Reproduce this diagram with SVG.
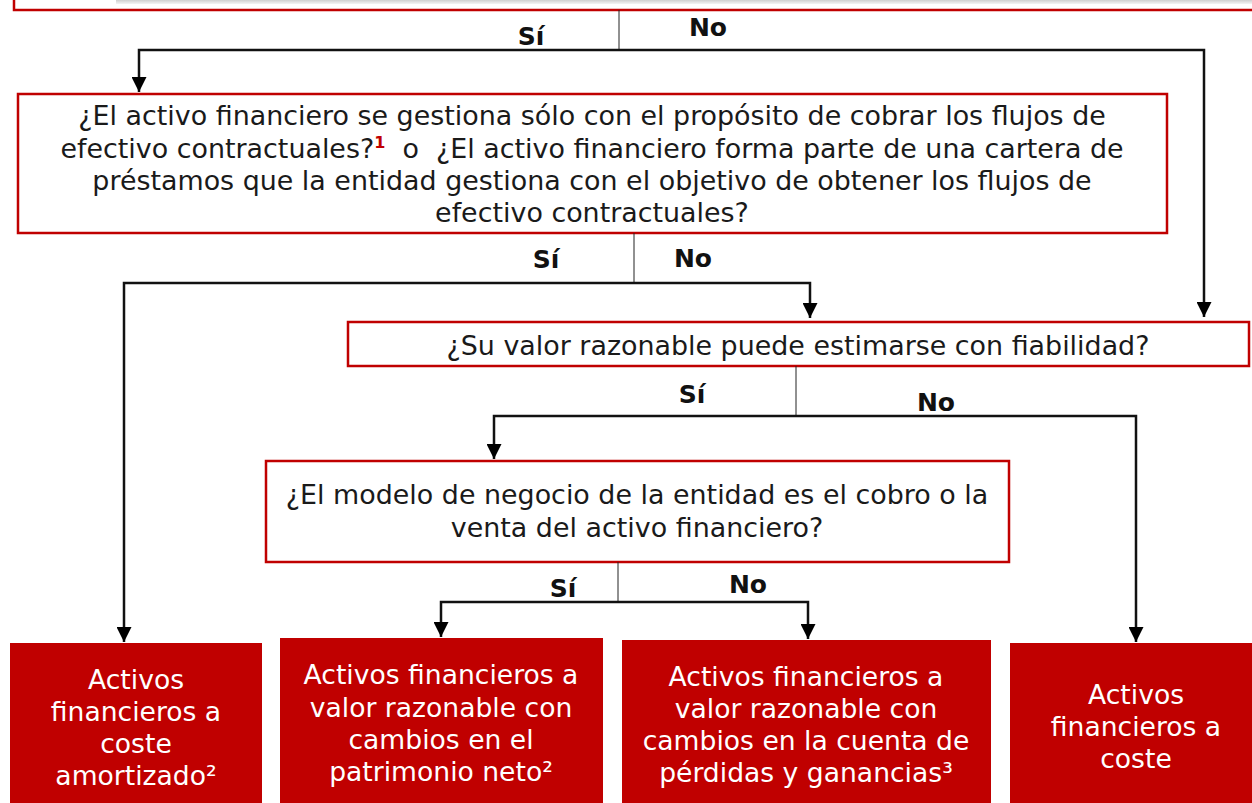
<svg xmlns="http://www.w3.org/2000/svg" width="1252" height="803" viewBox="0 0 1252 803">
<style>
.q{fill:#fff;stroke:#c00000;stroke-width:2.5}
.r{fill:#c00000;stroke:none}
.t{font-family:"DejaVu Sans","Liberation Sans",sans-serif;font-size:26.9px;fill:#1a1a1a;text-anchor:middle}
.w{font-family:"DejaVu Sans","Liberation Sans",sans-serif;font-size:26.6px;fill:#fff;text-anchor:middle}
.l{font-family:"DejaVu Sans","Liberation Sans",sans-serif;font-size:25px;font-weight:bold;fill:#111;text-anchor:middle}
.c{fill:none;stroke:#111;stroke-width:2.5}
.s{fill:none;stroke:#222;stroke-width:1}
</style>
<defs>
<marker id="ah" markerWidth="15" markerHeight="15" refX="15" refY="7.5" orient="auto" markerUnits="userSpaceOnUse" viewBox="0 0 15 15">
<path d="M0,0 L15,7.5 L0,15 Z" fill="#000"/>
</marker>
<linearGradient id="sh" x1="0" y1="0" x2="0" y2="1">
<stop offset="0" stop-color="#cfcfcf"/>
<stop offset="1" stop-color="#f4f4f4"/>
</linearGradient>
</defs>

<g id="n0">
<rect x="14" y="-20" width="1260" height="30" class="q"/>
<rect x="116" y="0" width="1136" height="4" fill="url(#sh)"/>
</g>

<g id="n1">
<rect x="18" y="94" width="1149" height="139" class="q"/>
<text class="t" x="592" y="125">¿El activo financiero se gestiona sólo con el propósito de cobrar los flujos de</text>
<text class="t" x="592" y="158" xml:space="preserve">efectivo contractuales?<tspan font-size="16" font-weight="bold" fill="#c00000" dy="-10">1</tspan><tspan dy="10">  o  ¿El activo financiero forma parte de una cartera de</tspan></text>
<text class="t" x="592" y="190">préstamos que la entidad gestiona con el objetivo de obtener los flujos de</text>
<text class="t" x="592" y="222">efectivo contractuales?</text>
</g>

<g id="n2">
<rect x="348" y="322" width="901" height="44" class="q"/>
<text class="t" x="798" y="355">¿Su valor razonable puede estimarse con fiabilidad?</text>
</g>

<g id="n3">
<rect x="266" y="461" width="743" height="101" class="q"/>
<text class="t" x="637" y="504">¿El modelo de negocio de la entidad es el cobro o la</text>
<text class="t" x="637" y="537">venta del activo financiero?</text>
</g>

<g id="n4">
<rect x="10" y="643" width="252" height="165" class="r"/>
<text class="w" x="136" y="689">Activos</text>
<text class="w" x="136" y="721">financieros a</text>
<text class="w" x="136" y="753">coste</text>
<text class="w" x="136" y="785">amortizado²</text>
</g>

<g id="n5">
<rect x="280" y="638" width="323" height="170" class="r"/>
<text class="w" x="441" y="684">Activos financieros a</text>
<text class="w" x="441" y="717">valor razonable con</text>
<text class="w" x="441" y="749">cambios en el</text>
<text class="w" x="441" y="781">patrimonio neto²</text>
</g>

<g id="n6">
<rect x="622" y="640" width="369" height="168" class="r"/>
<text class="w" x="806" y="686">Activos financieros a</text>
<text class="w" x="806" y="718">valor razonable con</text>
<text class="w" x="806" y="750">cambios en la cuenta de</text>
<text class="w" x="806" y="782">pérdidas y ganancias³</text>
</g>

<g id="n7">
<rect x="1010" y="643" width="250" height="165" class="r"/>
<text class="w" x="1136" y="704">Activos</text>
<text class="w" x="1136" y="736">financieros a</text>
<text class="w" x="1136" y="768">coste</text>
</g>

<g id="connectors">
<path class="s" d="M619,10 V50"/>
<path class="c" d="M619,50 H139 V92" marker-end="url(#ah)"/>
<path class="c" d="M619,50 H1204 V317" marker-end="url(#ah)"/>
<path class="s" d="M634,233 V283"/>
<path class="c" d="M634,283 H124 V642" marker-end="url(#ah)"/>
<path class="c" d="M634,283 H810 V318" marker-end="url(#ah)"/>
<path class="s" d="M796,366 V416"/>
<path class="c" d="M796,416 H494 V459" marker-end="url(#ah)"/>
<path class="c" d="M796,416 H1136 V642" marker-end="url(#ah)"/>
<path class="s" d="M618,562 V602"/>
<path class="c" d="M618,602 H441 V637" marker-end="url(#ah)"/>
<path class="c" d="M618,602 H808 V639" marker-end="url(#ah)"/>
<text class="l" x="531" y="45">Sí</text>
<text class="l" x="708" y="36">No</text>
<text class="l" x="546" y="268">Sí</text>
<text class="l" x="693" y="267">No</text>
<text class="l" x="692" y="403">Sí</text>
<text class="l" x="936" y="411">No</text>
<text class="l" x="563" y="597">Sí</text>
<text class="l" x="748" y="593">No</text>
</g>
</svg>
